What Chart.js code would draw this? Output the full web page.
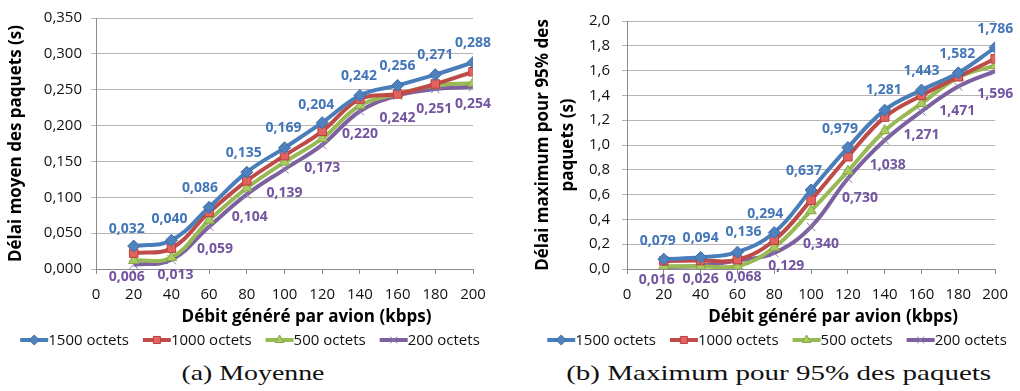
<!DOCTYPE html>
<html><head><meta charset="utf-8">
<script src="https://cdn.jsdelivr.net/npm/chart.js@4/dist/chart.umd.min.js"></script>
<style>
html,body{margin:0;padding:0;background:#fff}
body{width:1020px;height:391px;overflow:hidden;position:relative}
.box{position:absolute;top:0;width:510px;height:355px}
#boxA{left:0}#boxB{left:510px}
.cap{position:absolute;top:363px;font-family:"Liberation Serif",serif;font-size:21px;color:#111;white-space:nowrap;transform-origin:center center;line-height:1}
</style></head>
<body>
<div class="box" id="boxA"><canvas id="chartA" width="510" height="355"></canvas></div>
<div class="box" id="boxB"><canvas id="chartB" width="510" height="355"></canvas></div>
<div class="cap" id="capA">(a) Moyenne</div>
<div class="cap" id="capB">(b) Maximum pour 95% des paquets</div>
<script>
// ---- data ----
const debits = [20, 40, 60, 80, 100, 120, 140, 160, 180, 200];
const seriesNames = ['1500 octets', '1000 octets', '500 octets', '200 octets'];
const moyen1500 = [0.032, 0.040, 0.086, 0.135, 0.169, 0.204, 0.242, 0.256, 0.271, 0.288];
const moyen1000 = [0.022, 0.029, 0.079, 0.123, 0.158, 0.192, 0.237, 0.244, 0.258, 0.275];
const moyen500  = [0.012, 0.016, 0.068, 0.113, 0.149, 0.182, 0.228, 0.244, 0.256, 0.259];
const moyen200  = [0.006, 0.013, 0.059, 0.104, 0.139, 0.173, 0.220, 0.242, 0.251, 0.254];
const max1500 = [0.079, 0.094, 0.136, 0.294, 0.637, 0.979, 1.281, 1.443, 1.582, 1.786];
const max1000 = [0.065, 0.068, 0.075, 0.232, 0.555, 0.905, 1.225, 1.400, 1.550, 1.695];
const max500  = [0.022, 0.022, 0.022, 0.175, 0.470, 0.790, 1.115, 1.335, 1.545, 1.640];
const max200  = [0.016, 0.026, 0.068, 0.129, 0.340, 0.730, 1.038, 1.271, 1.471, 1.596];
const yTicksMoyen = { min: 0, max: 0.35, step: 0.05, decimals: 3 };
const yTicksMax = { min: 0, max: 2.0, step: 0.2, decimals: 1 };
const xTitle = 'Débit généré par avion (kbps)';

const FONT = '"Open Sans"';
const fmt = (v, d) => v.toFixed(d).replace('.', ',');

const styles = [
  { border: '#4A7EBB', fill: '#4F81BD', pborder: '#3C6DAA', ps: 'rectRot', r: 6 },
  { border: '#BE4B48', fill: '#E3615E', pborder: '#B8413E', ps: 'rect', r: 6 },
  { border: '#98B954', fill: '#A9CB62', pborder: '#86A744', ps: 'triangle', r: 6 },
  { border: '#7D60A0', fill: '#7D60A0', pborder: '#8C7BA8', ps: 'crossRot', r: 6 }
];

function makeDatasets(arrs) {
  return arrs.map((arr, i) => ({
    label: seriesNames[i],
    data: debits.map((x, j) => ({ x: x, y: arr[j] })),
    borderColor: styles[i].border,
    backgroundColor: styles[i].border,
    borderWidth: 4,
    tension: 0.4,
    pointStyle: styles[i].ps,
    pointRadius: styles[i].r,
    pointBackgroundColor: styles[i].fill,
    pointBorderColor: styles[i].pborder,
    pointBorderWidth: 1,
    order: i
  }));
}

// legend (line + marker) and offset x-axis title
const lineLegend = {
  id: 'lineLegend',
  afterDraw(chart, args, o) {
    const ctx = chart.ctx;
    ctx.save();
    const xs = chart.scales.x;
    ctx.font = 'bold ' + o.titleSize + 'px ' + FONT;
    ctx.fillStyle = '#000';
    ctx.textAlign = 'center'; ctx.textBaseline = 'middle';
    ctx.fillText(o.title, (xs.left + xs.right) / 2 + o.titleDx, o.titleY);
    ctx.font = o.fontSize + 'px ' + FONT;
    const dss = chart.data.datasets;
    const ws = dss.map(ds => o.lineLen + o.textGap + ctx.measureText(ds.label).width);
    const total = ws.reduce((a, b) => a + b, 0) + o.gap * (dss.length - 1);
    let x = o.centerX - total / 2;
    const y = o.y;
    dss.forEach((ds, i) => {
      ctx.strokeStyle = ds.borderColor;
      ctx.lineWidth = ds.borderWidth;
      ctx.beginPath(); ctx.moveTo(x, y); ctx.lineTo(x + o.lineLen, y); ctx.stroke();
      ctx.fillStyle = ds.pointBackgroundColor;
      ctx.strokeStyle = ds.pointBorderColor;
      ctx.lineWidth = ds.pointBorderWidth;
      Chart.helpers.drawPoint(ctx, { pointStyle: ds.pointStyle, radius: ds.pointRadius - 1, borderWidth: ds.pointBorderWidth, rotation: 0 }, x + o.lineLen / 2, y);
      ctx.fillStyle = '#111';
      ctx.textAlign = 'left'; ctx.textBaseline = 'middle';
      ctx.fillText(ds.label, x + o.lineLen + o.textGap, y + 1);
      x += ws[i] + o.gap;
    });
    ctx.restore();
  }
};

const valueLabels = {
  id: 'valueLabels',
  afterDatasetsDraw(chart, args, o) {
    const ctx = chart.ctx;
    ctx.save();
    ctx.font = 'bold ' + o.fontSize + 'px ' + FONT;
    ctx.textAlign = 'center'; ctx.textBaseline = 'middle';
    o.series.forEach(s => {
      const meta = chart.getDatasetMeta(s.index);
      const ds = chart.data.datasets[s.index];
      ctx.fillStyle = s.color;
      meta.data.forEach((pt, j) => {
        ctx.fillText(fmt(ds.data[j].y, 3), pt.x + s.dx[j], pt.y + s.dy[j]);
      });
    });
    ctx.restore();
  }
};

function makeChart(id, arrs, yt, yTitle, cfg) {
  return new Chart(document.getElementById(id), {
    type: 'line',
    data: { datasets: makeDatasets(arrs) },
    plugins: [valueLabels, lineLegend],
    options: {
      responsive: false,
      animation: false,
      layout: { padding: { left: 0, right: cfg.padRight, top: 16, bottom: 355 - 269 - cfg.xHeight } },
      scales: {
        x: {
          type: 'linear', min: 0, max: 200,
          afterFit: s => { s.height = cfg.xHeight; },
          ticks: { stepSize: 20, color: '#111', font: { family: FONT, size: 15 }, padding: 12, maxRotation: 0 },
          grid: { drawOnChartArea: false, drawTicks: true, tickLength: 5, color: '#8C8C8C' },
          border: { color: '#8C8C8C', width: 1 },
          title: { display: false }
        },
        y: {
          min: yt.min, max: yt.max,
          afterFit: s => { s.width = cfg.yWidth; },
          ticks: { stepSize: yt.step, color: '#111', font: { family: FONT, size: 15 }, padding: cfg.yTickPad, callback: v => fmt(v, yt.decimals) },
          grid: { color: '#B4B4B4', tickLength: 5, drawTicks: true },
          border: { color: '#8C8C8C', width: 1 },
          title: { display: true, text: yTitle, color: '#000', font: { family: FONT, size: 17, weight: 'bold', lineHeight: cfg.titleLH }, padding: { top: cfg.titlePad, bottom: 0 } }
        }
      },
      plugins: {
        legend: { display: false },
        tooltip: { enabled: false },
        lineLegend: { centerX: cfg.legendX, y: 340, fontSize: 15, lineLen: 28, textGap: 0, gap: 14,
                      title: xTitle, titleSize: 17, titleDx: 22, titleY: 317 },
        valueLabels: { fontSize: 14, series: cfg.labels }
      }
    }
  });
}

makeChart('chartA', [moyen1500, moyen1000, moyen500, moyen200], yTicksMoyen, 'Délai moyen des paquets (s)', {
  padRight: 37, xHeight: 62, yWidth: 96, yTickPad: 9, titlePad: 6, titleLH: 1.2, legendX: 250,
  labels: [
    { index: 0, color: '#4376B8', dx: [-7, -2, -9, -3, -1, -6, -1, 0, 0, 0], dy: [-17, -21, -19, -19, -20, -18, -19, -19, -20, -19] },
    { index: 3, color: '#7254A0', dx: [-7, 4, 6, 3, 0, 0, 0, 0, -1, 0], dy: [12, 15, 22, 23, 24, 23, 23, 23, 20, 17] }
  ]
});
makeChart('chartB', [max1500, max1000, max500, max200], yTicksMax, ['Délai maximum pour 95% des', 'paquets (s)'], {
  padRight: 20, xHeight: 62, yWidth: 117, yTickPad: 12, titlePad: 20, titleLH: 1.5, legendX: 267,
  labels: [
    { index: 0, color: '#4376B8', dx: [-6, 0, 6, -9, -7, -8, -1, 0, -1, 0], dy: [-18, -19, -20, -19, -19, -19, -20, -19, -19, -19] },
    { index: 3, color: '#7254A0', dx: [-7, 0, 6, 12, 10, 12, 3, 0, -1, 0], dy: [13, 13, 16, 13, 17, 20, 25, 24, 24, 23] }
  ]
});

function fitCaption(id, centerX, targetW) {
  const el = document.getElementById(id);
  const w = el.getBoundingClientRect().width;
  el.style.left = (centerX - w / 2) + 'px';
  el.style.transform = 'scaleX(' + (targetW / w) + ')';
}
fitCaption('capA', 253, 143);
fitCaption('capB', 779, 425);
</script>
</body></html>
